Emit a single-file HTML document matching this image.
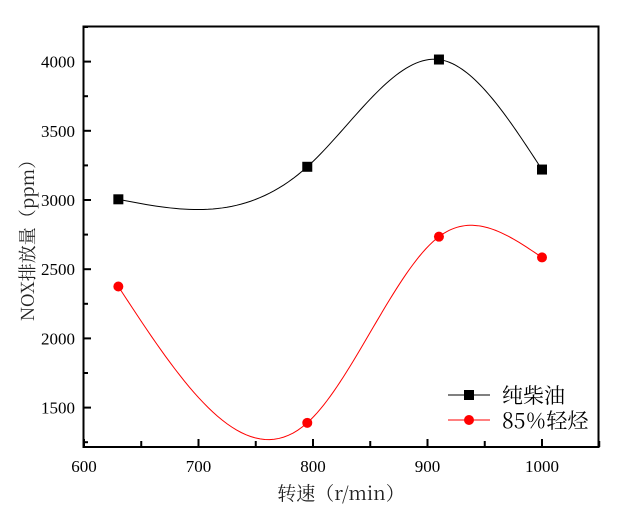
<!DOCTYPE html>
<html><head><meta charset="utf-8"><style>
body{margin:0;background:#fff;}
svg{display:block;font-family:"Liberation Serif","Noto Serif CJK SC",serif;}
</style></head><body>
<svg id="s" width="630" height="519" xmlns="http://www.w3.org/2000/svg">
<rect x="83.5" y="26.5" width="515" height="420.5" fill="none" stroke="#000" stroke-width="2"/>
<g id="ticks" stroke="#000" stroke-width="2"></g>
<g id="lab" font-size="17" fill="#000"></g>
<path id="pb" fill="none" stroke="#000" stroke-width="1"/>
<path id="pr" fill="none" stroke="#f00" stroke-width="1"/>
<g id="mk"></g>
<text x="0" y="0" transform="translate(34,236) rotate(-90)" text-anchor="middle" font-size="18" fill="#222" font-family="'Noto Serif CJK SC',serif">NOX排放量（ppm）</text>
<text x="341" y="500" text-anchor="middle" font-size="19" fill="#222" font-family="'Noto Serif CJK SC',serif">转速（r/min）</text>
<line x1="448" y1="395" x2="490" y2="395" stroke="#000"/>
<rect x="464" y="390" width="10" height="10" fill="#000"/>
<text x="502" y="403" font-size="21" font-family="'Noto Serif CJK SC',serif">纯柴油</text>
<line x1="448" y1="420" x2="490" y2="420" stroke="#f00"/>
<circle cx="469" cy="420" r="5" fill="#f00"/>
<text x="502" y="428" font-size="21" font-family="'Noto Serif CJK SC',serif">85％轻烃</text>
</svg>
<script>
const X=v=>84+(v-600)*1.145, Y=v=>200-(v-3000)*0.1384;
const t=document.getElementById('ticks'),l=document.getElementById('lab');
let h='',g='';
for(let v=600;v<=1050;v+=50){const x=X(v);h+=`<line x1="${x}" y1="447" x2="${x}" y2="${v%100?441:439}"/>`;
 if(v%100==0)g+=`<text x="${x}" y="472" text-anchor="middle">${v}</text>`;}
for(let v=1250;v<=4250;v+=250){const y=Y(v);h+=`<line x1="83" y1="${y}" x2="${v%500?88:91}" y2="${y}"/>`;
 if(v%500==0)g+=`<text x="75" y="${y+6}" text-anchor="end">${v}</text>`;}
t.innerHTML=h;l.innerHTML=g;
function spline(xs,ys){const n=xs.length,hh=[],m=new Array(n).fill(0);
 for(let i=0;i<n-1;i++)hh.push(xs[i+1]-xs[i]);
 const A=[],B=[],C=[],D=[];
 for(let i=1;i<n-1;i++){A.push(hh[i-1]);B.push(2*(hh[i-1]+hh[i]));C.push(hh[i]);D.push(6*((ys[i+1]-ys[i])/hh[i]-(ys[i]-ys[i-1])/hh[i-1]));}
 const k=B.length;for(let i=1;i<k;i++){const w=A[i]/B[i-1];B[i]-=w*C[i-1];D[i]-=w*D[i-1];}
 const s=new Array(k);s[k-1]=D[k-1]/B[k-1];for(let i=k-2;i>=0;i--)s[i]=(D[i]-C[i]*s[i+1])/B[i];
 for(let i=0;i<k;i++)m[i+1]=s[i];
 let p='';for(let i=0;i<n-1;i++)for(let j=0;j<=40;j++){const x=xs[i]+hh[i]*j/40,a1=(xs[i+1]-x)/hh[i],b1=(x-xs[i])/hh[i];
 const y=a1*ys[i]+b1*ys[i+1]+((a1**3-a1)*m[i]+(b1**3-b1)*m[i+1])*hh[i]*hh[i]/6;
 p+=(p?'L':'M')+X(x).toFixed(2)+','+Y(y).toFixed(2);}return p;}
const xs=[630,795,910,1000],yb=[3005,3240,4015,3220],yr=[2375,1390,2735,2585];
document.getElementById('pb').setAttribute('d',spline(xs,yb));
document.getElementById('pr').setAttribute('d',spline(xs,yr));
let mk='';xs.forEach((x,i)=>{mk+=`<rect x="${X(x)-5}" y="${Y(yb[i])-5}" width="10" height="10"/>`;
 mk+=`<circle cx="${X(x)}" cy="${Y(yr[i])}" r="5" fill="#f00"/>`;});
document.getElementById('mk').innerHTML=mk;
</script>
</body></html>
